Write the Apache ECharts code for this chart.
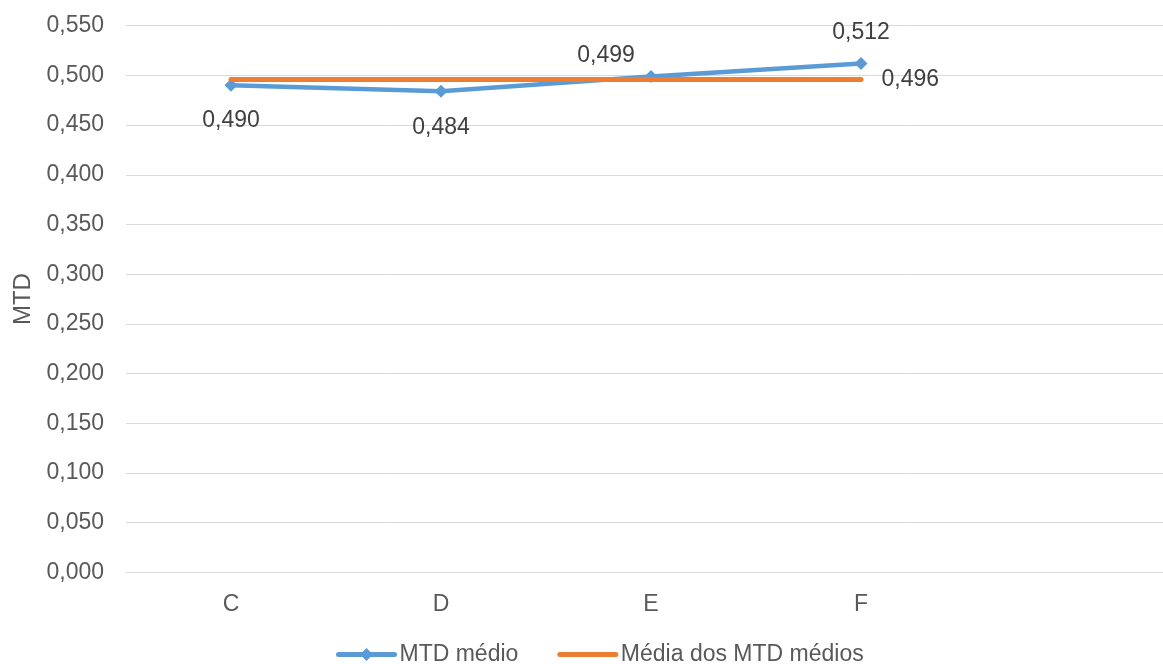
<!DOCTYPE html>
<html>
<head>
<meta charset="utf-8">
<script src="https://cdn.jsdelivr.net/npm/echarts@6/dist/echarts.min.js"></script>
<style>
  html, body { margin: 0; padding: 0; background: #ffffff; }
  #chart { width: 1163px; height: 664px; }
</style>
</head>
<body>
<div id="chart"></div>
<script>
// Categories along the x axis (the trailing empty slot leaves room on the right)
const categories = ['C', 'D', 'E', 'F', ''];
// MTD médio per section
const mtdMedio = [0.490, 0.484, 0.499, 0.512];
// Média dos MTD médios (same mean repeated over the sections)
const mediaMtd = [0.496, 0.496, 0.496, 0.496];
// Value axis range
const yMin = 0;
const yMax = 0.55;
const yStep = 0.05;

const fmt = v => v.toFixed(3).replace('.', ',');
const FONT = 'Liberation Sans, Arial, sans-serif';
const BLUE = '#5B9BD5';
const ORANGE = '#ED7D31';

// Per-point label placement for the MTD médio series
const mtdLabels = [
  { position: 'bottom', distance: 17, offset: [0, 0] },
  { position: 'bottom', distance: 18, offset: [0, 0] },
  { position: 'top', distance: 3, offset: [-45, 0] },
  { position: 'top', distance: 13, offset: [0, 0] }
];

const chart = echarts.init(document.getElementById('chart'), null, { renderer: 'canvas' });

chart.setOption({
  animation: false,
  backgroundColor: '#ffffff',
  textStyle: { fontFamily: FONT },
  grid: {
    left: 126, width: 1050, top: 25.7, bottom: 91.6,
    containLabel: false,
    outerBoundsMode: 'none'
  },
  legend: {
    left: 336,
    top: 643,
    padding: 0,
    itemWidth: 56,
    itemHeight: 16,
    itemGap: 39,
    lineStyle: { width: 5, cap: 'round' },
    textStyle: { fontFamily: FONT, fontSize: 23, color: '#595959' },
    data: [
      { name: 'MTD médio' },
      // the mean line has no markers, so its key shows the line alone
      { name: 'Média dos MTD médios', itemStyle: { opacity: 0 } }
    ]
  },
  xAxis: {
    type: 'category',
    data: categories,
    boundaryGap: true,
    axisLine: { show: true, lineStyle: { color: '#D9D9D9', width: 1 } },
    axisTick: { show: false },
    axisLabel: { fontFamily: FONT, fontSize: 23, color: '#595959', margin: 21 },
    splitLine: { show: false }
  },
  yAxis: {
    type: 'value',
    min: yMin,
    max: yMax,
    interval: yStep,
    name: 'MTD',
    nameLocation: 'middle',
    nameGap: 90,
    nameRotate: 90,
    nameTextStyle: { fontFamily: FONT, fontSize: 24, color: '#595959' },
    axisLine: { show: false },
    axisTick: { show: false },
    axisLabel: { fontFamily: FONT, fontSize: 23, color: '#595959', margin: 22, formatter: v => fmt(v) },
    splitLine: { show: true, lineStyle: { color: '#D9D9D9', width: 1 } }
  },
  series: [
    {
      name: 'MTD médio',
      type: 'line',
      data: mtdMedio.map((v, i) => ({
        value: v,
        label: {
          show: true,
          position: mtdLabels[i].position,
          distance: mtdLabels[i].distance,
          offset: mtdLabels[i].offset
        }
      })),
      symbol: 'diamond',
      symbolSize: 13,
      itemStyle: { color: BLUE },
      lineStyle: { color: BLUE, width: 4.5, cap: 'round', join: 'round' },
      label: {
        fontFamily: FONT,
        fontSize: 23,
        color: '#404040',
        formatter: p => fmt(p.value)
      },
      z: 2
    },
    {
      name: 'Média dos MTD médios',
      type: 'line',
      data: mediaMtd.map((v, i) => (i === mediaMtd.length - 1
        ? { value: v, label: { show: true, position: 'right', distance: 20 } }
        : { value: v })),
      symbol: 'circle',
      symbolSize: 1,
      itemStyle: { color: ORANGE },
      lineStyle: { color: ORANGE, width: 5, cap: 'round', join: 'round' },
      label: {
        show: false,
        fontFamily: FONT,
        fontSize: 23,
        color: '#404040',
        formatter: p => fmt(p.value)
      },
      z: 3
    }
  ]
});
</script>
</body>
</html>
